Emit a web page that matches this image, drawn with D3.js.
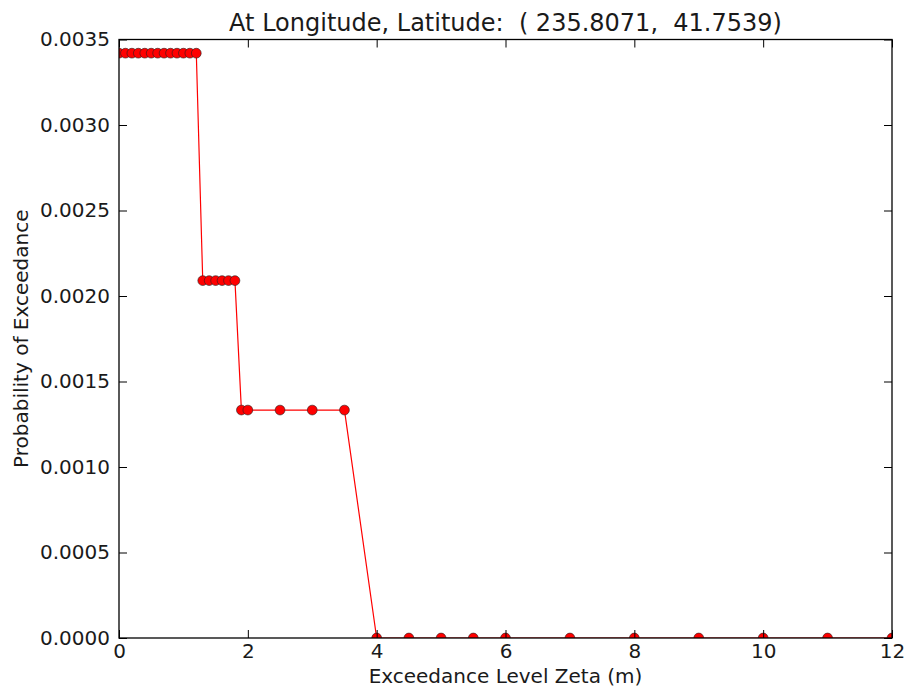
<!DOCTYPE html>
<html>
<head>
<meta charset="utf-8">
<script src="https://cdn.jsdelivr.net/npm/d3@7"></script>
<style>
  body { margin: 0; background: #fff; }
  text { font-family: "DejaVu Sans", sans-serif; fill: #1a1a1a; }
  .frame { fill: none; stroke: #000; stroke-width: 1.3px; }
  .tick line { stroke: #000; stroke-width: 1px; }
</style>
</head>
<body>
<div id="chartDiv"></div>
<script>
// exceedance levels (m) and probabilities
var zetaLevels = [0, 0.1, 0.2, 0.3, 0.4, 0.5, 0.6, 0.7, 0.8, 0.9, 1.0, 1.1, 1.2,
  1.3, 1.4, 1.5, 1.6, 1.7, 1.8,
  1.9, 2.0, 2.5, 3.0, 3.5,
  4.0, 4.5, 5.0, 5.5, 6, 7, 8, 9, 10, 11, 12];
var probExceed = [0.00342, 0.00342, 0.00342, 0.00342, 0.00342, 0.00342, 0.00342, 0.00342, 0.00342, 0.00342, 0.00342, 0.00342, 0.00342,
  0.00209, 0.00209, 0.00209, 0.00209, 0.00209, 0.00209,
  0.001333, 0.001333, 0.001333, 0.001333, 0.001333,
  0, 0, 0, 0, 0, 0, 0, 0, 0, 0, 0];
var xTicks = [0, 2, 4, 6, 8, 10, 12];
var yTicks = [0, 0.0005, 0.0010, 0.0015, 0.0020, 0.0025, 0.0030, 0.0035];
var titleText = "At Longitude, Latitude:\u00a0\u00a0( 235.8071,\u00a0\u00a041.7539)";

var SVGwidth = 908;
var SVGheight = 691;
var plotLeft = 119, plotRight = 892, plotTop = 39.5, plotBottom = 638;

var svg = d3.select("#chartDiv").append("svg")
  .attr("width", SVGwidth)
  .attr("height", SVGheight);

var xScale = d3.scaleLinear().domain([0, 12]).range([plotLeft, plotRight]);
var yScale = d3.scaleLinear().domain([0, 0.0035]).range([plotBottom, plotTop]);

svg.append("clipPath").attr("id", "plotClip")
  .append("rect")
  .attr("x", plotLeft).attr("y", plotTop)
  .attr("width", plotRight - plotLeft).attr("height", plotBottom - plotTop);

var pts = zetaLevels.map(function (z, i) { return [z, probExceed[i]]; });

var plotG = svg.append("g").attr("clip-path", "url(#plotClip)");

var line = d3.line()
  .x(function (d) { return xScale(d[0]); })
  .y(function (d) { return yScale(d[1]); });

plotG.append("path")
  .datum(pts)
  .attr("d", line)
  .style("fill", "none")
  .style("stroke", "#ff0000")
  .style("stroke-width", "1.2px");

plotG.selectAll("circle.pt")
  .data(pts)
  .enter().append("circle")
  .attr("class", "pt")
  .attr("cx", function (d) { return xScale(d[0]); })
  .attr("cy", function (d) { return yScale(d[1]); })
  .attr("r", 4.9)
  .style("fill", "#ff0000")
  .style("stroke", "#222")
  .style("stroke-width", "0.6px");

// axes: ticks point inwards on all four sides
var tickLen = 8;
function styleAxis(g) {
  g.select(".domain").remove();
  g.selectAll(".tick text").style("font-size", "20px");
}

svg.append("g")
  .attr("transform", "translate(0," + plotBottom + ")")
  .call(d3.axisBottom(xScale).tickValues(xTicks).tickFormat(d3.format("d"))
    .tickSizeInner(-tickLen).tickSizeOuter(0).tickPadding(6))
  .call(styleAxis);

svg.append("g")
  .attr("transform", "translate(0," + plotTop + ")")
  .call(d3.axisTop(xScale).tickValues(xTicks).tickFormat("")
    .tickSizeInner(-tickLen).tickSizeOuter(0))
  .call(styleAxis);

svg.append("g")
  .attr("transform", "translate(" + plotLeft + ",0)")
  .call(d3.axisLeft(yScale).tickValues(yTicks).tickFormat(d3.format(".4f"))
    .tickSizeInner(-tickLen).tickSizeOuter(0).tickPadding(9))
  .call(styleAxis);

svg.append("g")
  .attr("transform", "translate(" + plotRight + ",0)")
  .call(d3.axisRight(yScale).tickValues(yTicks).tickFormat("")
    .tickSizeInner(-tickLen).tickSizeOuter(0))
  .call(styleAxis);

svg.append("rect")
  .attr("class", "frame")
  .attr("x", plotLeft).attr("y", plotTop)
  .attr("width", plotRight - plotLeft).attr("height", plotBottom - plotTop);

// labels
svg.append("text")
  .attr("x", (plotLeft + plotRight) / 2)
  .attr("y", 30.5)
  .attr("text-anchor", "middle")
  .style("font-size", "24px")
  .text(titleText);

svg.append("text")
  .attr("x", (plotLeft + plotRight) / 2)
  .attr("y", 683)
  .attr("text-anchor", "middle")
  .style("font-size", "20px")
  .text("Exceedance Level Zeta (m)");

svg.append("text")
  .attr("transform", "translate(28," + (plotTop + plotBottom) / 2 + ") rotate(-90)")
  .attr("text-anchor", "middle")
  .style("font-size", "20px")
  .text("Probability of Exceedance");
</script>
</body>
</html>
